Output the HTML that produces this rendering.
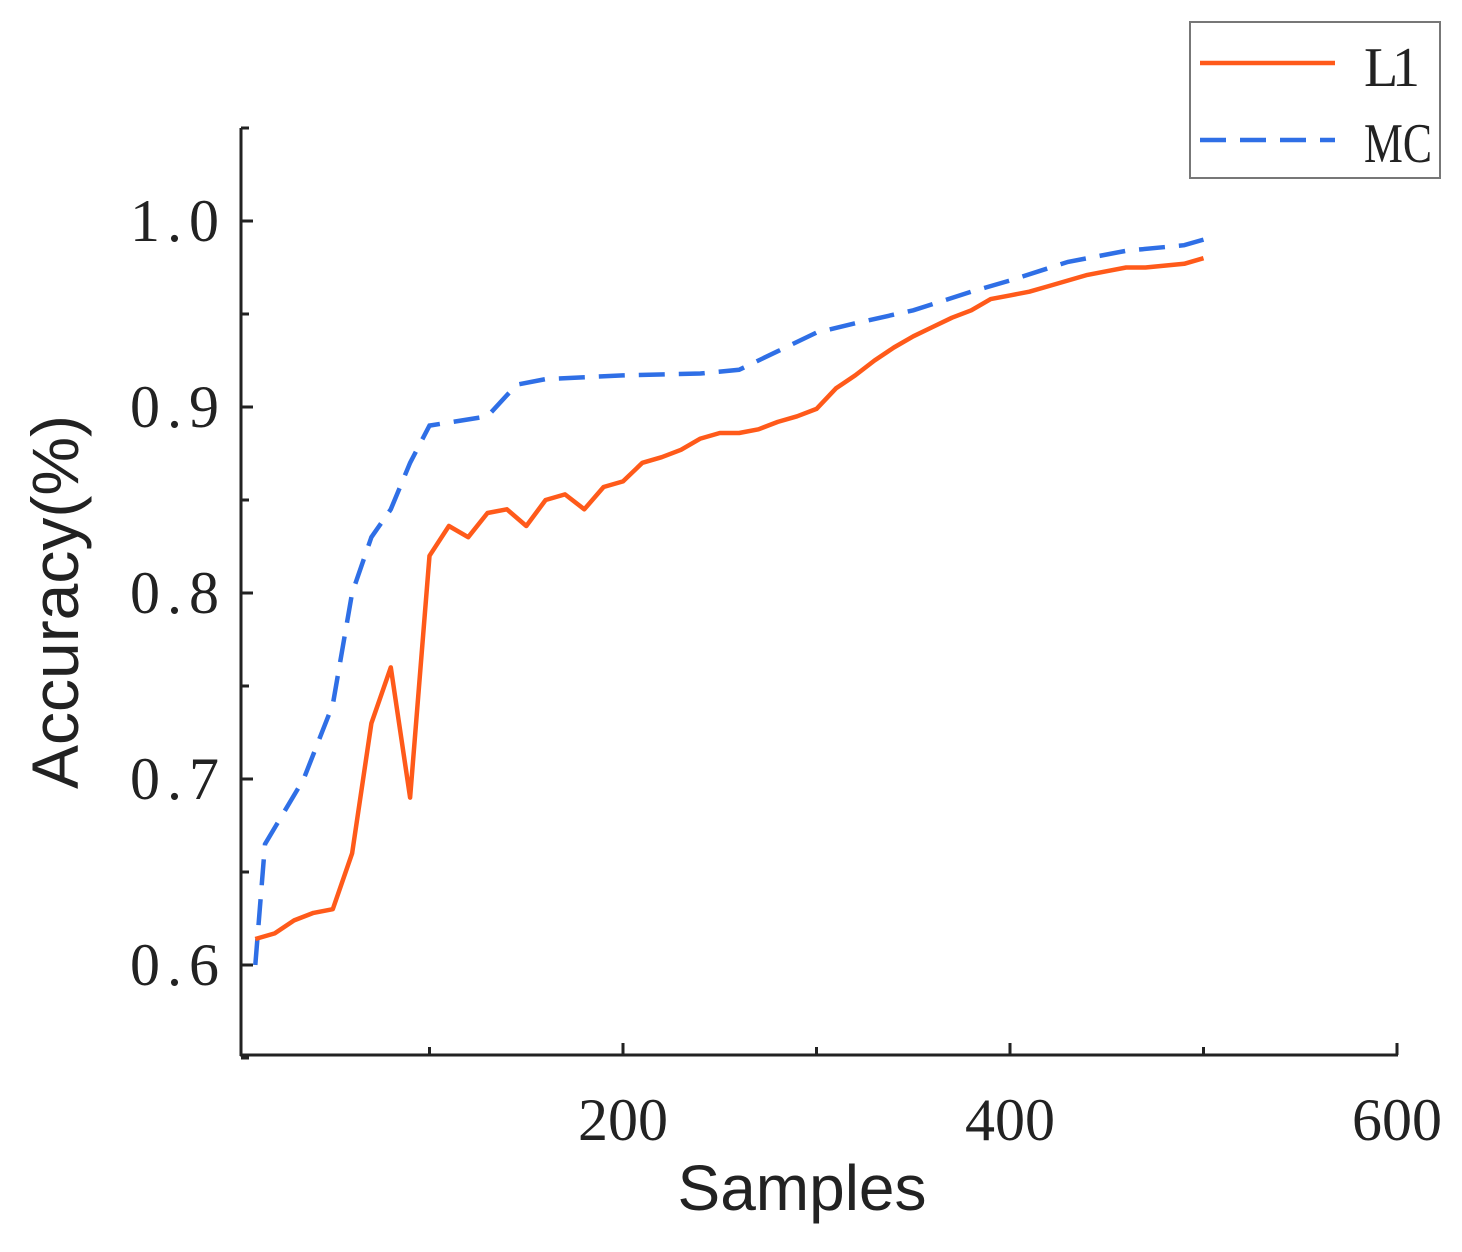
<!DOCTYPE html>
<html><head><meta charset="utf-8"><style>
body{margin:0;background:#fff}
svg{display:block}
text{font-family:"Liberation Serif",serif;fill:#222}
</style></head><body>
<svg id="c" width="1462" height="1252">
<g id="axes"></g><g id="series"></g>
<text x="802" y="1210" font-size="64" text-anchor="middle" style="font-family:'Liberation Sans',sans-serif">Samples</text>
<text transform="translate(78,602) rotate(-90)" font-size="66" text-anchor="middle" style="font-family:'Liberation Sans',sans-serif">Accuracy(%)</text>
<g>
<rect x="1190" y="22" width="250" height="156" fill="#fff" stroke="#777" stroke-width="2"/>
<line x1="1200" y1="63" x2="1335" y2="63" stroke="#ff5a1a" stroke-width="4.5"/>
<text x="1364" y="86" font-size="56" textLength="56">L1</text>
<line x1="1200" y1="140" x2="1335" y2="140" stroke="#2f6fe6" stroke-width="4.5" stroke-dasharray="26,14"/>
<text x="1364" y="162" font-size="56" textLength="68" lengthAdjust="spacingAndGlyphs">MC</text>
</g>
</svg>
<script>
const l1Samples=[10,20,30,40,50,60,70,80,90,100,110,120,130,140,150,160,170,180,190,200,210,220,230,240,250,260,270,280,290,300,310,320,330,340,350,360,370,380,390,400,410,420,430,440,450,460,470,480,490,500];
const l1Values=[.614,.617,.624,.628,.630,.660,.73,.76,.69,.82,.836,.83,.843,.845,.836,.85,.853,.845,.857,.86,.87,.873,.877,.883,.886,.886,.888,.892,.895,.899,.91,.917,.925,.932,.938,.943,.948,.952,.958,.96,.962,.965,.968,.971,.973,.975,.975,.976,.977,.98];
const mcSamples=[10,15,35,50,60,70,80,90,100,130,145,160,200,240,260,280,300,320,350,380,400,430,460,490,500];
const mcValues=[.60,.665,.70,.74,.80,.83,.845,.87,.89,.895,.912,.915,.917,.918,.92,.93,.94,.945,.952,.962,.968,.978,.984,.987,.99];
const yTicks=[0.6,0.7,0.8,0.9,1.0];
const yTickLabels=["0.6","0.7","0.8","0.9","1.0"];
const xTicks=[200,400,600];
const xTickLabels=["200","400","600"];
const NS="http://www.w3.org/2000/svg";
const X=v=>623+(v-200)*1.935;
const Y=v=>221+(1-v)*1860;
const axes=document.getElementById('axes'),ser=document.getElementById('series');
function mk(tag,at,par){const e=document.createElementNS(NS,tag);for(const k in at)e.setAttribute(k,at[k]);par.appendChild(e);return e;}
let e=mk('line',{x1:241,y1:128,x2:241,y2:1056,stroke:'#222','stroke-width':3},axes);


e=mk('line',{x1:240,y1:1055,x2:1398,y2:1055,stroke:'#222','stroke-width':3},axes);


for(let v=0.55;v<=1.051;v+=0.05){const maj=Math.abs(v*10-Math.round(v*10))<1e-6;mk('line',{x1:241,x2:241+(maj?12:8),y1:Y(v),y2:Y(v),stroke:'#222','stroke-width':3},axes);}
for(let v=100;v<=600;v+=100){mk('line',{x1:X(v),x2:X(v),y1:1055,y2:1055-(v%200==0?12:8),stroke:'#222','stroke-width':3},axes);}
yTicks.forEach((v,i)=>{const t=mk('text',{x:226,y:Y(v)+20,'font-size':60,'text-anchor':'end','letter-spacing':'7'},axes);t.textContent=yTickLabels[i];

});
xTicks.forEach((v,i)=>{const t=mk('text',{x:X(v),y:1140,'font-size':60,'text-anchor':'middle'},axes);t.textContent=xTickLabels[i];

});
const pts=(xs,ys)=>xs.map((s,i)=>X(s).toFixed(1)+','+Y(ys[i]).toFixed(1)).join(' ');
e=mk('polyline',{points:pts(mcSamples,mcValues),fill:'none',stroke:'#2f6fe6','stroke-width':4.5,'stroke-dasharray':'26,14'},ser);


e=mk('polyline',{points:pts(l1Samples,l1Values),fill:'none',stroke:'#ff5a1a','stroke-width':4.5,'stroke-linejoin':'round'},ser);


</script>
</body></html>
